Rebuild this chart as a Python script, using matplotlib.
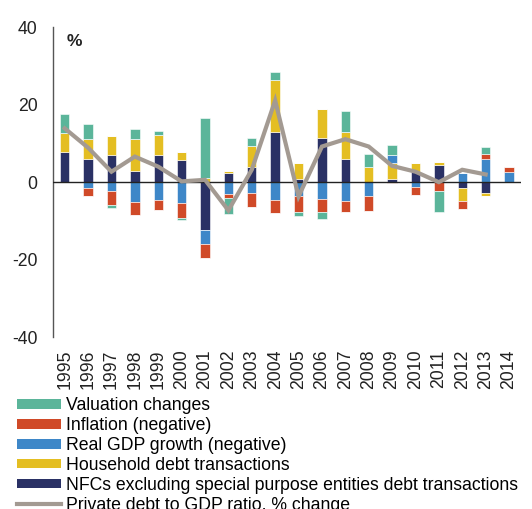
import numpy as np
import matplotlib
matplotlib.use("Agg")
import matplotlib.pyplot as plt
from matplotlib.lines import Line2D
from matplotlib.patches import Patch

plt.rcParams["font.family"] = ["Liberation Sans", "DejaVu Sans"]
plt.rcParams["axes.unicode_minus"] = False

years = [str(y) for y in range(1995, 2015)]

nfc = [7.7, 5.9, 6.9, 3.0, 7.1, 5.6, -12.4, 2.3, 3.8, 12.9,
       0.8, 11.4, 6.0, 0.0, 0.85, 2.7, 4.5, -1.4, -2.85, 0.0]
household = [5.0, 5.2, 4.9, 8.2, 5.0, 2.1, 1.2, 0.5, 5.6, 13.5,
             4.2, 7.5, 7.0, 3.8, 4.05, 2.2, 0.6, -3.45, -0.65, 0.0]
real_gdp = [0.0, -1.5, -2.25, -5.0, -4.6, -5.5, -3.5, -3.1, -2.9, -4.5,
            -3.7, -4.4, -4.8, -3.5, 2.0, -1.3, 0.0, 2.3, 6.0, 2.6]
inflation = [0.0, -2.2, -3.75, -3.4, -2.6, -3.8, -3.6, -0.9, -3.4, -3.5,
             -4.0, -3.3, -3.0, -4.0, -0.3, -2.1, -2.25, -2.05, 1.4, 1.2]
valuation = [5.0, 3.9, -0.6, 2.5, 1.2, -0.4, 15.5, -4.1, 1.9, 2.0,
             -1.0, -1.9, 5.5, 3.4, 2.7, 0.0, -5.55, 0.0, 1.8, 0.0]
debt_ratio = [13.9, 8.9, 2.7, 6.6, 4.0, 0.2, 0.6, -7.3, 3.2, 21.1,
              -3.7, 9.2, 11.1, 9.2, 4.2, 2.7, 0.0, 3.2, 2.0]

series = [
    ("NFCs excluding special purpose entities debt transactions", nfc, "#2a3165"),
    ("Household debt transactions", household, "#e4be22"),
    ("Real GDP growth (negative)", real_gdp, "#3e87c8"),
    ("Inflation (negative)", inflation, "#d04a28"),
    ("Valuation changes", valuation, "#5bb59a"),
]
line_label = "Private debt to GDP ratio, % change"
line_color = "#a39a92"

fig = plt.figure(figsize=(5.32, 5.09), dpi=100)
ax = fig.add_axes([53 / 532, 1 - 337 / 509, (520.7 - 53) / 532, (337 - 27.3) / 509])

x = np.arange(len(years))
pos_bottom = np.zeros(len(years))
neg_bottom = np.zeros(len(years))
for label, vals, color in series:
    v = np.array(vals)
    pos = np.where(v > 0, v, 0)
    neg = np.where(v < 0, v, 0)
    ax.bar(x, pos, 0.4, bottom=pos_bottom, color=color,
           edgecolor="white", linewidth=0.4, zorder=2)
    ax.bar(x, neg, 0.4, bottom=neg_bottom, color=color,
           edgecolor="white", linewidth=0.4, zorder=2)
    pos_bottom += pos
    neg_bottom += neg

ax.axhline(0, color="#222222", linewidth=1.0, zorder=3)
ax.plot(x[:len(debt_ratio)], debt_ratio, color=line_color, linewidth=3,
        solid_joinstyle="miter", zorder=4)

ax.set_xlim(-0.5, 19.5)
ax.set_ylim(-40, 40)
ax.set_yticks([-40, -20, 0, 20, 40])
ax.set_xticks(x)
ax.set_xticklabels(years, rotation=90)
ax.tick_params(axis="both", length=0, labelsize=12.7, colors="#222222")
ax.tick_params(axis="y", pad=11)
ax.tick_params(axis="x", pad=9)
for side in ["top", "right", "bottom"]:
    ax.spines[side].set_visible(False)
ax.spines["left"].set_color("#555555")
ax.spines["left"].set_linewidth(1.0)

ax.text(0.03, 0.955, "%", transform=ax.transAxes, fontsize=12.5,
        fontweight="bold", ha="left", va="center", color="#222222")

handles = [Patch(facecolor=c, edgecolor="none", label=l)
           for l, _, c in reversed(series)]
handles.append(Line2D([0], [0], color=line_color, linewidth=3, label=line_label))
fig.legend(handles=handles, loc="upper left", bbox_to_anchor=(17 / 532, 1 - 397.5 / 509),
           frameon=False, fontsize=12.7, handlelength=2.5, handleheight=0.45,
           handletextpad=0.28, labelspacing=0.16, borderpad=0, borderaxespad=0)

fig.savefig("out.png", dpi=100)
